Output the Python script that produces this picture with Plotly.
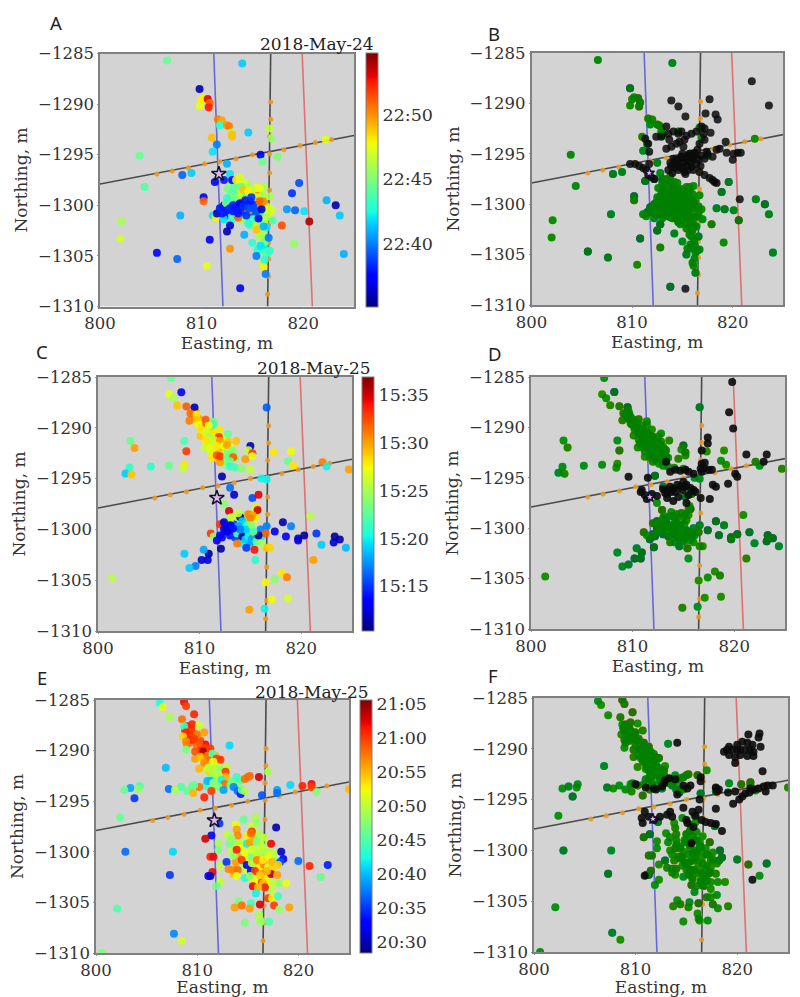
import plotly.graph_objects as go

W, H = 800, 997

# reference lines across the map, east / north in metres
blue_line_x = [811.2, 812.1]
blue_line_y = [-1285, -1310]
black_line_x = [816.8, 816.5]
black_line_y = [-1285, -1310]
red_line_x = [819.9, 820.9]
red_line_y = [-1285, -1310]
cross_line_x = [800, 825]
cross_line_y = [-1297.9, -1293.1]

# orange stations along the two black lines
station_x = [816.8, 816.8, 816.7, 816.7, 816.7, 816.7, 816.6, 816.6, 816.6, 816.6, 816.6, 816.5,
             805.6, 807.1, 808.7, 810.3, 811.8, 813.4, 815.0, 818.1, 819.7, 821.2, 822.8]
station_y = [-1289.8, -1291.5, -1293.2, -1294.9, -1296.8, -1298.5, -1300.2, -1301.9, -1303.7, -1305.3, -1307.0, -1308.8,
             -1296.9, -1296.6, -1296.3, -1295.9, -1295.7, -1295.4, -1295.0, -1294.5, -1294.1, -1293.8, -1293.5]

star_x = [811.7]
star_y = [-1296.9]

x_ticks = [800, 810, 820]
y_ticks = [-1310, -1305, -1300, -1295, -1290, -1285]

# panel A: event east, north, minute after 22:00
a_x = [813.2, 813.6, 814.0, 814.4, 815.0, 815.6, 816.0, 812.4, 813.0, 814.5, 815.0, 815.8,
       816.2, 816.4, 814.0, 813.2, 813.8, 816.0, 816.2, 815.5, 816.3, 816.0, 815.4, 812.2,
       806.6, 814.0, 809.8, 810.2, 809.8, 810.0, 810.6, 810.8, 810.7, 811.6, 812.0, 811.8,
       812.5, 812.7, 812.9, 813.0, 813.0, 811.0, 814.6, 811.5, 811.1, 803.9, 815.8, 816.0,
       817.5, 816.9, 816.7, 822.2, 812.5, 808.1, 809.0, 811.3, 804.4, 812.2, 812.8, 813.0,
       819.6, 818.9, 822.3, 823.2, 823.6, 818.4, 819.2, 820.1, 820.6, 817.9, 817.0, 819.1, 824.0,
       802.1, 802.0, 805.6, 807.6, 807.9, 810.2, 810.2, 810.5, 810.8, 812.5, 812.8, 812.8,
       814.2, 813.8, 815.0, 815.8, 815.4, 816.2, 816.1, 816.3, 816.6, 816.7, 815.7, 816.1,
       815.6, 814.6, 815.4, 813.1, 812.8, 812.5, 813.4, 814.2, 813.9, 814.1, 815.4, 814.9,
       815.7, 814.6, 816.1, 815.7, 816.7, 816.9, 811.1, 811.4, 811.5, 813.0, 813.6, 814.6,
       811.8, 812.0, 812.5, 812.8, 813.1, 813.4, 813.8, 814.1, 814.3, 814.8, 814.9, 814.6,
       815.1, 815.4, 814.4, 813.6, 813.1, 815.9]
a_y = [-1298.9, -1299.2, -1299.0, -1298.9, -1299.0, -1299.0, -1299.0, -1299.8, -1299.6, -1301.6, -1301.4, -1301.8,
       -1300.4, -1301.2, -1301.4, -1298.0, -1297.2, -1302.6, -1303.6, -1304.4, -1304.8, -1305.8, -1299.2, -1301.4,
       -1285.7, -1286.0, -1288.5, -1289.4, -1290.2, -1289.6, -1289.5, -1289.9, -1290.3, -1291.5, -1291.6, -1292.1,
       -1292.1, -1292.2, -1292.8, -1293.0, -1293.2, -1293.3, -1292.8, -1294.0, -1294.7, -1295.1, -1295.0, -1295.7,
       -1295.2, -1293.4, -1292.4, -1293.5, -1295.9, -1297.0, -1296.8, -1297.7, -1298.2, -1297.5, -1296.9, -1297.5,
       -1297.8, -1298.8, -1299.5, -1300.0, -1301.0, -1300.4, -1300.5, -1300.6, -1301.6, -1302.0, -1301.5, -1303.8, -1304.8,
       -1301.6, -1303.3, -1304.7, -1305.3, -1301.0, -1299.2, -1299.6, -1306.0, -1303.4, -1302.6, -1302.0, -1304.3,
       -1302.9, -1308.2, -1303.7, -1304.0, -1305.0, -1305.4, -1306.1, -1306.8, -1303.2, -1304.5, -1303.0, -1302.1,
       -1301.3, -1301.8, -1302.4, -1298.6, -1299.3, -1299.3, -1297.5, -1297.8, -1298.2, -1298.5, -1298.3, -1298.5,
       -1298.3, -1298.6, -1299.6, -1299.6, -1299.1, -1300.5, -1301.0, -1301.2, -1300.8, -1301.0, -1301.2, -1300.5,
       -1300.3, -1300.8, -1300.5, -1300.3, -1300.0, -1300.5, -1299.8, -1300.1, -1299.5, -1299.6, -1299.2, -1300.3,
       -1300.3, -1300.6, -1301.0, -1300.8, -1300.6, -1300.4]
a_t = [46, 45, 47, 44, 48, 50, 46, 45, 44, 43, 44, 45,
       47, 46, 46, 44, 47, 46, 45, 43, 44, 46, 47, 42,
       44.5, 41.5, 36, 48, 47.5, 48, 53, 51, 52.5, 50.5, 49.5, 43,
       50, 50.5, 46, 49, 49, 49, 41.5, 40, 42, 44.5, 37, 44.5,
       45, 45.5, 46.5, 47.5, 41, 39.5, 41.5, 37.5, 44, 38, 42, 37.5,
       39, 38.5, 41, 36, 41.5, 40.5, 39.5, 42, 54, 51.5, 44, 45.5, 41,
       46, 47, 37.5, 39.5, 41, 37, 51, 47.5, 37, 36, 36.5, 50,
       41, 37.5, 43, 42, 40, 43, 48, 40, 40, 43, 46, 41,
       37, 43, 49, 44, 45, 43, 48, 47, 44, 49, 47.5, 46.5,
       47.5, 48, 50, 51, 46, 47, 42, 48, 36, 44, 51, 50,
       38, 38, 38, 38.5, 38, 38, 37.5, 38.5, 38, 38, 38.5, 39,
       39, 39, 38.5, 38, 38, 36.5]
# events hidden inside the dense patch of panel A
a_more_x = [812.2, 812.7, 813.3, 813.6, 813.9, 814.3, 814.6, 815.0, 815.3, 813.0, 814.0, 814.7, 812.4, 815.2, 813.5,
            812.6, 813.0, 813.4, 813.8, 814.2, 814.5, 812.9, 813.3, 813.7, 814.1, 814.5, 814.9, 815.3, 815.7, 816.1,
            812.2, 812.6, 813.0, 813.4, 813.8, 814.2, 814.6, 815.0, 815.4, 815.8, 816.2, 816.6,
            812.6, 813.0, 813.4, 813.8, 814.2, 814.6, 815.0, 815.4, 815.8, 816.2, 816.6,
            814.8, 815.4, 815.9, 816.4, 815.9, 816.2, 815.8, 816.5]
a_more_y = [-1300.1, -1300.8, -1300.2, -1299.9, -1300.4, -1300.6, -1299.9, -1300.0, -1299.6, -1300.9, -1299.6, -1300.9, -1301.0, -1301.0, -1301.0,
            -1298.4, -1297.9, -1298.6, -1297.8, -1298.2, -1297.9, -1299.0, -1299.4, -1298.9, -1299.3, -1299.2, -1298.9, -1298.8, -1298.6, -1298.2,
            -1300.0, -1299.7, -1300.2, -1299.9, -1300.4, -1300.0, -1300.4, -1300.2, -1299.8, -1300.2, -1299.8, -1300.2,
            -1301.0, -1301.4, -1300.9, -1301.3, -1300.9, -1301.3, -1300.9, -1301.3, -1301.0, -1301.4, -1301.0,
            -1302.0, -1302.0, -1302.5, -1302.2, -1303.2, -1304.0, -1304.4, -1304.6]
a_more_t = [38, 37.5, 38, 38.5, 37.5, 38, 38.5, 39, 38.5, 38, 38, 38.5, 37.5, 39, 37.5,
            45, 46, 48, 47, 48, 46, 44, 46, 47, 45, 47, 48, 47, 48, 46,
            38, 39, 38, 38, 38, 38, 38, 39, 39, 50, 50, 47,
            38, 43, 38, 42, 39, 43, 40, 42, 43, 46, 47,
            44, 47, 46, 42, 46, 42, 43, 44]

# panel B: events above the cross line, same night
b_black_x = [821.9, 823.6, 813.9, 814.6, 815.3, 817.7, 817.3, 818.3, 818.5, 820.7, 815.3, 811.3, 811.6, 811.7,
             812.4, 812.9, 813.4, 813.6, 814.1, 814.6, 814.9, 815.4, 815.2, 815.9, 816.4, 816.9, 817.2, 817.8, 817.1,
             813.4, 813.9, 814.4, 815.1, 813.7, 814.7, 816.7, 817.2,
             818.0, 818.4, 818.7, 819.3, 819.4, 820.1, 820.5, 820.8, 820.0,
             816.1, 816.7, 817.2, 817.7, 818.2, 818.4, 818.0,
             809.8, 810.3, 810.7, 811.1, 811.4, 811.6, 811.9, 812.2, 811.7,
             813.6, 813.9, 814.2, 814.5, 814.8, 815.1, 815.4, 815.7, 816.0, 816.3, 816.6, 816.9, 817.2, 817.5,
             814.0, 814.3, 814.6, 814.9, 815.2, 815.5, 815.8, 816.1, 816.4, 814.4, 814.7, 815.0, 815.3, 815.6,
             815.9, 815.0, 815.3, 815.6, 816.2, 816.5, 813.8, 814.1, 816.8, 817.4]
b_black_y = [-1287.8, -1290.2, -1289.7, -1290.3, -1291.3, -1289.6, -1291.0, -1291.1, -1291.6, -1299.5, -1308.4, -1293.5, -1294.0, -1294.8,
             -1293.3, -1293.3, -1292.3, -1293.0, -1292.8, -1293.0, -1292.8, -1293.2, -1293.6, -1293.0, -1292.8, -1292.3, -1292.5, -1292.9, -1293.0,
             -1294.5, -1294.3, -1294.0, -1294.3, -1293.6, -1293.8, -1294.0, -1293.6,
             -1295.3, -1294.6, -1294.5, -1293.8, -1294.9, -1295.0, -1294.9, -1294.9, -1295.6,
             -1296.6, -1296.8, -1297.1, -1297.4, -1297.8, -1297.9, -1297.6,
             -1296.0, -1296.0, -1296.2, -1296.4, -1296.6, -1297.1, -1297.3, -1297.5, -1296.0,
             -1296.6, -1296.2, -1296.4, -1295.8, -1296.3, -1295.9, -1295.4, -1295.0, -1295.5, -1295.1, -1295.6, -1295.2, -1295.5, -1295.0,
             -1296.9, -1295.6, -1296.6, -1295.3, -1296.8, -1296.2, -1295.9, -1295.4, -1296.0, -1296.1, -1295.5, -1296.4, -1295.7, -1295.2,
             -1296.3, -1295.0, -1297.0, -1296.6, -1294.9, -1294.6, -1295.9, -1295.5, -1296.2, -1294.8]

# panel C: event east, north, minute after 15:00
c_x = [809.8, 810.1, 810.4, 810.7, 811.0, 811.3, 811.6, 811.9, 812.2, 812.5, 812.8, 810.6, 810.9, 811.2, 811.5, 811.8,
       812.1, 812.4, 812.7, 813.0, 813.3, 811.1, 811.7, 812.3, 813.5, 812.6, 812.0, 811.4, 813.0, 814.3, 813.7, 814.1,
       807.2, 808.2, 807.0, 807.4, 807.8, 808.7, 809.5, 809.1, 809.0, 809.7, 816.6,
       809.7, 810.1, 810.6, 810.2, 809.9, 811.4, 810.9, 810.2, 810.7, 812.8, 811.4, 811.9, 810.9, 811.4, 812.0, 810.6,
       813.6, 808.5, 803.2, 803.6, 815.0, 810.5, 811.0, 811.7, 812.4, 812.7, 808.7, 814.8, 815.2, 815.2, 817.3, 819.0,
       813.0, 813.2, 811.2, 811.7, 812.0, 812.7, 813.3, 814.5, 813.0, 813.0, 813.5, 814.1, 815.0, 818.7, 819.2, 822.1,
       822.5, 824.7, 803.1, 802.7, 803.3, 805.2, 807.0, 808.5, 808.4, 812.2, 816.1, 816.6, 813.0, 813.4, 815.2, 815.8,
       812.4, 815.6, 815.5, 815.7, 812.9, 813.1, 814.0, 814.8, 815.2, 815.0, 813.8, 814.2, 812.0, 814.7, 815.1, 816.0,
       816.6, 818.2, 819.0, 817.4, 818.5, 816.5, 811.1, 811.4, 819.7, 819.7, 820.3, 821.5, 822.0, 823.3, 823.2, 823.8,
       824.4, 820.9, 821.2, 813.7, 814.6, 815.4, 816.6, 816.9, 815.5, 812.1, 810.9, 810.4, 808.5, 810.2, 810.8, 809.6,
       809.0, 801.4, 816.5, 817.4, 818.1, 818.6, 817.1, 818.7, 816.4, 814.9,
       813.8, 814.5, 814.2, 814.5, 814.8, 815.3, 815.1, 815.6, 816.0, 814.0, 815.8, 815.3,
       812.4, 812.7, 813.0, 812.4, 812.0, 811.7, 813.0, 813.3, 812.7]
c_y = [-1289.0, -1290.8, -1289.6, -1291.6, -1290.2, -1291.0, -1292.2, -1290.2, -1292.0, -1290.9, -1291.4, -1290.6, -1291.4, -1292.4, -1290.9, -1291.6,
       -1292.4, -1292.6, -1292.2, -1291.9, -1292.3, -1291.8, -1293.0, -1293.2, -1293.0, -1293.6, -1293.4, -1289.4, -1293.0, -1299.0, -1300.4, -1301.4,
       -1285.1, -1286.5, -1286.7, -1287.1, -1287.8, -1287.9, -1288.0, -1288.6, -1289.3, -1288.7, -1288.0,
       -1289.2, -1289.4, -1289.2, -1289.9, -1289.7, -1289.7, -1289.8, -1290.2, -1290.4, -1290.6, -1290.5, -1290.9, -1290.9, -1291.2, -1291.3, -1291.2,
       -1291.3, -1291.3, -1291.3, -1292.0, -1291.8, -1292.0, -1292.0, -1291.8, -1291.8, -1291.7, -1292.3, -1292.2, -1292.5, -1292.8, -1292.4, -1292.3,
       -1292.5, -1292.2, -1292.9, -1292.7, -1292.8, -1292.9, -1292.9, -1293.1, -1293.3, -1293.8, -1293.9, -1294.0, -1294.1, -1293.3, -1293.7, -1293.4,
       -1293.8, -1294.1, -1293.9, -1294.5, -1294.6, -1293.8, -1293.7, -1293.6, -1294.0, -1294.8, -1295.0, -1295.1, -1295.9, -1296.6, -1296.9, -1296.6,
       -1297.5, -1297.8, -1298.1, -1298.1, -1298.2, -1298.8, -1298.8, -1298.5, -1298.6, -1298.9, -1298.4, -1299.2, -1299.5, -1299.6, -1299.6, -1300.0,
       -1299.7, -1299.3, -1299.7, -1300.2, -1300.7, -1300.4, -1300.4, -1300.7, -1300.9, -1301.1, -1300.6, -1300.4, -1301.5, -1300.7, -1301.3, -1301.0,
       -1301.8, -1298.7, -1303.0, -1301.4, -1301.8, -1302.0, -1301.8, -1301.8, -1303.0, -1301.9, -1302.4, -1302.0, -1302.4, -1303.0, -1303.0, -1303.6,
       -1303.8, -1304.8, -1305.2, -1304.9, -1304.3, -1304.7, -1306.9, -1306.8, -1307.8, -1307.9,
       -1299.7, -1300.0, -1300.7, -1301.0, -1300.7, -1300.7, -1301.0, -1301.2, -1301.4, -1300.0, -1300.6, -1300.2,
       -1299.3, -1299.7, -1300.0, -1300.0, -1300.6, -1301.1, -1299.6, -1299.9, -1300.2]
c_t = [30, 29, 28, 27, 30, 27, 29, 28, 31, 26, 29, 28, 29, 27, 30, 27,
       29, 26, 24, 27, 25, 26, 29, 25, 24, 24, 30, 23, 28, 24, 22, 20,
       23, 13, 27, 25, 29, 32, 11.5, 31.5, 31, 28, 16,
       29, 29, 32, 32, 27, 22, 27, 28, 26, 23, 28, 33, 25, 26, 30, 28,
       29, 22, 23, 30, 11.5, 26, 27, 28, 27, 30, 33, 26, 33, 27, 28, 27.5,
       23, 24, 28, 32, 33, 23, 32, 30, 23, 21, 22, 24, 26, 23, 28, 31,
       20, 30, 21, 19, 29, 21, 23, 28, 26, 11.5, 20, 20, 16.5, 12, 15.5, 34.5,
       24, 28, 27, 35, 35, 26, 12, 31, 30, 31, 26, 19, 33, 22, 24, 17,
       17, 11.5, 17, 13, 13.5, 32, 33, 24, 12.5, 12.5, 11, 15, 19, 11, 12, 11.5,
       18.5, 25.5, 30, 31, 15, 34, 29, 28.5, 21, 11, 11, 18, 19, 12.5, 12.5, 17,
       19, 25.5, 27.5, 24, 28, 31, 27.5, 26.5, 20, 30,
       18, 19, 11, 19, 20, 31, 18, 22, 25, 17, 10.8, 22,
       12.5, 13, 13, 13, 13.5, 13, 13, 14, 12.5]
# events hidden inside the band and patch of panel C
c_more_x = [809.5, 809.8, 810.2, 810.5, 810.8, 811.1, 811.4, 811.7, 812.0, 812.3, 812.6, 812.9, 813.2, 810.0,
            810.4, 810.8, 811.2, 811.6, 812.0, 812.4, 812.8, 811.0, 811.4, 811.8, 812.2, 812.6, 809.3, 809.6,
            812.3, 812.6, 813.0, 813.3, 813.6, 814.0, 814.4, 814.8, 815.0, 815.4, 815.0,
            814.5, 813.5, 813.0, 813.7, 814.3, 815.3, 815.5, 812.2, 815.8, 816.1, 814.2]
c_more_y = [-1289.0, -1289.6, -1290.0, -1290.4, -1290.8, -1291.0, -1291.4, -1291.2, -1291.7, -1292.1, -1292.6, -1292.8, -1293.0, -1289.2,
            -1289.8, -1290.2, -1290.4, -1290.7, -1291.0, -1291.4, -1292.0, -1291.5, -1292.0, -1292.4, -1292.8, -1293.1, -1288.7, -1288.4,
            -1299.5, -1300.2, -1300.6, -1299.2, -1299.9, -1300.4, -1299.6, -1300.2, -1300.8, -1300.3, -1301.3,
            -1301.0, -1300.8, -1299.0, -1298.8, -1298.6, -1299.2, -1298.7, -1300.8, -1301.0, -1300.7, -1299.9]
c_more_t = [29, 28, 30, 27, 29, 28, 27, 29, 28, 27, 26, 25, 26, 30,
            28, 27, 26, 29, 28, 27, 25, 28, 27, 26, 28, 25, 31, 30,
            13, 13, 14, 15, 17, 18, 20, 19, 21, 20, 18,
            17, 15, 24, 26, 25, 27, 28, 13, 22, 20, 19]

d_black_x = [819.8, 819.5, 819.9, 817.4, 817.4, 816.8, 821.2, 823.2, 822.9, 813.3, 816.8, 817.1, 816.7, 817.0, 817.5, 817.8,
             816.8, 816.0, 813.7, 814.2, 814.7, 815.2, 815.5, 820.1, 820.3, 819.4, 817.9, 818.2, 809.6, 811.5, 810.9, 810.8,
             811.4, 811.2, 811.9, 812.4, 813.0, 813.2, 813.4, 814.0, 814.5, 815.3, 815.5, 816.7, 817.6,
             813.7, 814.0, 814.4, 814.7, 815.0, 815.2, 814.9, 815.3, 815.7, 816.0, 814.2, 813.8, 816.2, 813.4]
d_black_y = [-1285.5, -1288.5, -1290.1, -1291.0, -1291.6, -1292.3, -1292.7, -1292.7, -1293.4, -1293.4, -1293.6, -1293.5, -1294.1, -1294.1, -1294.2, -1294.2,
             -1294.4, -1294.6, -1294.4, -1294.2, -1294.3, -1294.2, -1294.4, -1294.6, -1294.9, -1295.6, -1295.7, -1295.9, -1294.9, -1295.0, -1296.2, -1296.4,
             -1297.1, -1296.7, -1296.6, -1296.8, -1296.1, -1296.5, -1297.0, -1297.3, -1296.9, -1297.5, -1296.7, -1297.0, -1297.1,
             -1295.9, -1296.1, -1295.7, -1295.9, -1295.4, -1295.9, -1296.2, -1295.7, -1296.0, -1296.2, -1296.4, -1296.4, -1296.4, -1296.2]

# panel E: event east, north, minute after 20:00
e_x = [809.0, 809.4, 809.8, 810.2, 810.5, 810.9, 811.2, 811.6, 811.9, 812.2, 812.5, 810.0, 810.8, 811.4, 812.0, 812.9,
       814.0, 814.6, 815.2, 815.8, 816.4, 817.0, 817.4, 816.0, 815.0, 814.4, 813.6, 813.6, 816.8, 817.6, 815.6, 816.6,
       806.3, 806.6, 808.7, 808.9, 807.3, 809.7, 808.5, 809.5, 808.7, 810.2, 810.7, 808.9, 808.6, 809.3, 809.7, 808.9,
       813.2, 808.9, 809.8, 810.6, 811.3, 810.3, 811.0, 811.5, 811.9, 812.3, 811.6, 810.7, 810.2, 811.1, 811.9, 812.3,
       812.8, 806.9, 812.8, 812.1, 811.6, 813.9, 814.7, 815.2, 816.1, 817.0, 811.0, 811.3, 812.4, 812.7, 811.6, 813.3,
       813.6, 814.0, 814.3, 814.4, 814.7, 812.1, 812.6, 811.4, 810.7, 810.2, 809.5, 809.7, 809.0, 808.4, 809.6, 807.2,
       807.8, 803.4, 802.8, 804.3, 804.2, 803.8, 816.4, 817.9, 817.9, 819.2, 820.4, 821.3, 821.3, 821.8, 825.0,
       802.4, 812.2, 811.4, 810.8, 802.9, 807.6, 807.3, 811.1, 811.5, 811.3, 811.3, 811.6, 812.3, 812.3, 811.9, 812.9,
       812.1, 812.1, 802.1, 807.7, 808.5, 800.6,
       814.6, 815.8, 813.8, 813.9, 815.4, 815.9, 815.4, 815.3, 817.8, 813.0, 814.0, 813.4, 814.9, 815.2, 815.9, 816.3,
       817.3, 813.9, 814.7, 815.4, 815.9, 816.5, 818.3, 818.5, 818.2, 820.0, 821.1, 822.9, 822.2, 813.1, 813.6, 814.0,
       814.4, 814.9, 815.4, 815.9, 816.5, 817.4, 818.0, 815.3, 815.7, 813.9, 814.7, 815.2, 816.2, 817.3, 816.9, 817.9,
       816.5, 816.7, 815.5, 816.0, 817.4, 818.1, 818.8, 815.8, 817.0, 817.4, 818.0, 814.1, 815.3, 816.2, 813.7, 814.4,
       815.2, 817.6, 818.1, 819.1, 814.7, 816.1, 816.2, 816.3, 817.1]
e_y = [-1289.4, -1288.1, -1290.8, -1289.2, -1290.9, -1291.4, -1292.0, -1292.6, -1291.0, -1292.4, -1292.8, -1288.4, -1289.7, -1292.8, -1291.4, -1291.7,
       -1299.4, -1300.8, -1301.2, -1302.0, -1299.6, -1300.4, -1303.8, -1298.2, -1298.4, -1299.6, -1300.4, -1302.2, -1302.8, -1300.2, -1302.8, -1298.6,
       -1285.3, -1285.7, -1285.2, -1285.6, -1286.7, -1286.4, -1286.9, -1287.4, -1287.6, -1287.5, -1288.2, -1288.2, -1288.6, -1288.9, -1288.8, -1289.1,
       -1289.5, -1289.9, -1290.1, -1290.1, -1289.8, -1290.6, -1290.5, -1290.3, -1290.8, -1290.9, -1291.1, -1291.2, -1291.8, -1291.7, -1291.7, -1291.9,
       -1292.1, -1291.7, -1292.6, -1292.4, -1292.2, -1292.6, -1292.8, -1292.5, -1292.6, -1292.1, -1293.0, -1293.0, -1292.9, -1293.3, -1293.2, -1293.4,
       -1293.6, -1294.0, -1294.3, -1293.9, -1294.0, -1293.6, -1293.9, -1294.0, -1294.6, -1293.6, -1293.5, -1293.4, -1294.0, -1293.6, -1294.2, -1293.8,
       -1293.9, -1293.7, -1293.9, -1293.5, -1293.8, -1294.7, -1294.4, -1293.9, -1294.2, -1293.4, -1293.5, -1293.3, -1293.6, -1294.1, -1293.8,
       -1296.6, -1297.2, -1298.4, -1298.7, -1300.0, -1300.0, -1302.3, -1302.4, -1302.0, -1302.4, -1300.5, -1300.5, -1301.4, -1302.9, -1303.4, -1301.0,
       -1299.8, -1299.1, -1305.6, -1308.1, -1308.8, -1310.0,
       -1296.8, -1296.6, -1297.3, -1297.8, -1297.5, -1297.2, -1298.0, -1298.2, -1297.6, -1298.3, -1298.4, -1298.7, -1299.2, -1299.1, -1299.0, -1299.3,
       -1299.2, -1299.8, -1300.1, -1299.8, -1300.0, -1300.1, -1300.0, -1300.7, -1301.0, -1300.9, -1301.4, -1301.3, -1302.5, -1301.7, -1301.8, -1301.8,
       -1300.8, -1301.3, -1301.1, -1300.8, -1300.8, -1301.0, -1301.3, -1301.9, -1301.9, -1302.4, -1302.6, -1302.4, -1302.3, -1302.2, -1301.9, -1302.3,
       -1303.1, -1303.5, -1303.4, -1303.5, -1303.1, -1303.1, -1303.1, -1304.1, -1304.6, -1304.6, -1304.4, -1304.9, -1305.1, -1305.2, -1305.5, -1305.3,
       -1305.6, -1305.3, -1305.7, -1305.5, -1307.0, -1306.2, -1306.7, -1306.9, -1306.9]
e_t = [58, 60, 56, 59, 52, 55, 54, 50, 57, 49, 48, 57, 60, 47, 51, 50,
       50, 52, 53, 54, 51, 52, 50, 49, 53, 52, 48, 55, 53, 50, 52, 50,
       43, 52, 62, 60, 49, 61, 58, 61, 44, 51, 56, 61, 54, 61, 60, 57,
       41, 47, 59, 64, 60, 55, 58, 45, 60, 60, 52, 57, 55, 50, 49, 48,
       60, 40, 55, 50, 49, 44, 58, 58, 63, 49, 40, 40, 42, 58, 48, 46,
       38, 37, 34, 46, 49, 47, 39, 60, 61, 58, 46, 46, 46, 45, 55, 37,
       49, 39, 46, 45, 48, 35, 36, 39, 37, 41, 61, 62, 60, 47, 55,
       46, 35, 33, 63, 37, 41, 35, 33, 62, 31, 61, 62, 50, 50, 46, 35,
       47, 49, 45, 38, 51, 47,
       46, 49, 52, 56, 51, 48, 60, 58, 30, 50, 57, 48, 42, 56, 47, 50,
       62, 61, 52, 51, 50, 49, 31, 33, 36, 37, 61, 34, 46, 57, 57, 58,
       60, 33, 50, 57, 53, 55, 54, 33, 60, 52, 43, 48, 54, 64, 55, 56,
       55, 61, 62, 55, 50, 48, 52, 42, 60, 53, 44, 47, 44, 63, 56, 58,
       56, 60, 48, 56, 47, 49, 50, 48, 45]
# events hidden inside the band and patch of panel E
e_more_x = [808.8, 809.1, 809.4, 809.7, 810.0, 810.3, 810.6, 810.9, 811.2, 811.5, 811.8, 812.1, 812.4, 812.7, 812.4,
            809.0, 809.4, 809.9, 810.3, 810.8, 811.3, 811.8, 812.2, 811.0, 811.4, 811.9, 810.8, 811.6, 812.7, 813.3, 814.0, 814.4, 815.0,
            814.0, 814.4, 814.8, 815.0, 815.3, 815.6, 816.0, 816.3, 816.0, 815.6, 815.2, 814.6, 814.2,
            814.6, 815.0, 815.4, 815.8, 816.2, 816.6, 817.0, 817.4, 816.5, 817.0, 817.0, 816.4, 816.6, 815.6, 816.9, 817.1, 817.6, 813.4, 813.8, 813.2]
e_more_y = [-1288.0, -1288.6, -1289.2, -1289.0, -1289.6, -1290.0, -1290.3, -1290.7, -1291.0, -1291.2, -1291.7, -1291.9, -1292.3, -1292.7, -1293.1,
            -1287.6, -1288.0, -1288.4, -1289.0, -1289.4, -1290.2, -1290.5, -1290.9, -1292.0, -1292.4, -1292.6, -1293.5, -1293.6, -1293.4, -1293.0, -1293.2, -1292.9, -1292.6,
            -1299.0, -1299.8, -1299.0, -1298.4, -1299.5, -1298.6, -1299.0, -1299.7, -1300.2, -1300.3, -1300.4, -1300.6, -1300.6,
            -1301.5, -1301.9, -1302.4, -1301.0, -1301.5, -1301.3, -1301.5, -1301.7, -1302.2, -1302.5, -1303.0, -1303.0, -1303.4, -1302.8, -1299.8, -1300.4, -1300.9, -1300.0, -1301.0, -1299.2]
e_more_t = [60, 59, 57, 60, 58, 61, 56, 55, 58, 52, 50, 53, 50, 58, 46,
            62, 60, 61, 59, 62, 58, 55, 58, 50, 47, 48, 44, 46, 48, 46, 47, 45, 58,
            49, 46, 50, 52, 48, 55, 47, 51, 54, 50, 47, 53, 56,
            49, 52, 50, 55, 53, 57, 51, 54, 58, 52, 50, 60, 55, 53, 49, 52, 48, 50, 56, 47]

f_black_x = [822.2, 822.1, 821.1, 820.5, 821.0, 821.5, 822.3, 819.2, 820.0, 818.7, 819.0, 819.5, 820.0, 820.3, 820.8, 821.3,
             821.6, 819.2, 819.8, 820.3, 821.0, 821.6, 819.8, 822.5, 814.1,
             810.0, 811.0, 811.8, 812.0, 812.6, 812.9, 813.3, 813.9, 812.8, 814.7, 815.4, 815.1, 814.1, 816.4, 816.4, 816.3,
             817.9, 818.2, 818.0, 819.1, 819.8, 819.6, 820.2, 820.5, 820.8, 821.2, 821.6, 822.1, 822.6, 823.0, 823.5, 822.8, 821.3,
             810.9, 810.6, 810.7, 811.3, 812.4, 811.8, 813.4, 813.1, 813.6, 814.7, 815.6, 816.2, 815.9, 817.9, 815.0, 815.1,
             815.7, 816.5, 816.9, 817.4, 817.9, 818.5, 815.5, 810.9, 821.5]
f_black_y = [-1288.5, -1288.9, -1288.6, -1289.3, -1289.4, -1289.6, -1289.8, -1289.8, -1289.6, -1290.3, -1290.1, -1290.1, -1290.1, -1290.1, -1290.1, -1290.1,
             -1290.3, -1290.6, -1290.8, -1290.6, -1290.7, -1290.7, -1291.4, -1292.2, -1289.4,
             -1293.5, -1293.8, -1293.9, -1294.0, -1293.7, -1293.1, -1292.9, -1293.0, -1293.4, -1293.6, -1293.6, -1293.9, -1294.5, -1292.8, -1293.2, -1295.0,
             -1293.8, -1294.0, -1294.2, -1294.3, -1294.2, -1295.4, -1295.0, -1294.7, -1294.4, -1294.3, -1294.0, -1293.9, -1293.7, -1293.6, -1293.6, -1294.2, -1293.9,
             -1296.2, -1296.8, -1297.3, -1296.7, -1296.7, -1297.0, -1296.2, -1296.5, -1296.7, -1295.8, -1296.2, -1296.0, -1296.6, -1295.9, -1297.0, -1297.3,
             -1297.7, -1297.0, -1297.2, -1297.3, -1297.4, -1298.1, -1299.3, -1302.5, -1302.9]

# colorbar ticks per panel
a_cb_vals = [40, 45, 50]
a_cb_text = ["22:40", "22:45", "22:50"]
c_cb_vals = [15, 20, 25, 30, 35]
c_cb_text = ["15:15", "15:20", "15:25", "15:30", "15:35"]
e_cb_vals = [30, 35, 40, 45, 50, 55, 60, 65]
e_cb_text = ["20:30", "20:35", "20:40", "20:45", "20:50", "20:55", "21:00", "21:05"]

jet = [[0, "#00007f"], [0.11, "#0000ff"], [0.125, "#0000ff"], [0.34, "#00dbff"], [0.375, "#14ffe2"],
       [0.64, "#eeff08"], [0.66, "#ffec00"], [0.89, "#ff1400"], [0.91, "#e80000"], [1, "#7f0000"]]

SERIF = "DejaVu Serif"
TEXT = "#333333"

fig = go.Figure()


def add_map(idx, box, title_stand):
    # box is left, right, top, bottom of the plot area in page pixels
    left, right, top, bottom = box
    suffix = "" if idx == 1 else str(idx)
    axis = dict(showgrid=False, zeroline=False, showline=True, mirror=True, linecolor="#808080", linewidth=1.5,
                ticks="outside", ticklen=1, tickcolor="#999999",
                tickfont=dict(family=SERIF, size=16.5, color=TEXT))
    fig.layout["xaxis" + suffix] = dict(axis, domain=[left / W, right / W], range=[800, 825], tickvals=x_ticks,
                                        anchor="y" + suffix,
                                        title=dict(text="Easting, m", standoff=0,
                                                   font=dict(family=SERIF, size=17, color=TEXT)))
    fig.layout["yaxis" + suffix] = dict(axis, domain=[1 - bottom / H, 1 - top / H], range=[-1310, -1285],
                                        tickvals=y_ticks, anchor="x" + suffix,
                                        title=dict(text="Northing, m", standoff=title_stand,
                                                   font=dict(family=SERIF, size=17, color=TEXT)))
    ref = dict(xaxis="x" + suffix, yaxis="y" + suffix, showlegend=False, hoverinfo="skip")
    for lx, ly, col in [(blue_line_x, blue_line_y, "#6868d8"), (black_line_x, black_line_y, "#4a4a4a"),
                        (red_line_x, red_line_y, "#e07070"), (cross_line_x, cross_line_y, "#4a4a4a")]:
        fig.add_trace(go.Scatter(x=lx, y=ly, mode="lines", line=dict(color=col, width=1.6), **ref))
    fig.add_trace(go.Scatter(x=station_x, y=station_y, mode="markers",
                             marker=dict(color="#e89a28", size=5, opacity=0.9), **ref))
    return ref


def add_colored(ref, xs, ys, ts, cmin, cmax, colorbar=None):
    marker = dict(color=ts, cmin=cmin, cmax=cmax, colorscale=jet, size=8, opacity=0.9, line=dict(width=0))
    if colorbar:
        marker.update(colorbar=colorbar, showscale=True)
    fig.add_trace(go.Scatter(x=xs, y=ys, mode="markers", marker=marker, **ref))


def make_bar(left, top, bottom, vals, text):
    return dict(x=left / W, xanchor="left", y=1 - bottom / H, yanchor="bottom", len=(bottom - top) / H,
                thickness=12, xpad=0, ypad=0, outlinecolor="#808080", outlinewidth=1,
                tickvals=vals, ticktext=text, ticks="", tickfont=dict(family=SERIF, size=17.5, color=TEXT))


def add_star(ref, size):
    fig.add_trace(go.Scatter(x=star_x, y=star_y, mode="markers",
                             marker=dict(symbol="star", size=size, color="#e3b6e8",
                                         line=dict(color="#101030", width=1.5)), **ref))


def add_marks(ref, xs, ys, color, opacity=0.9):
    fig.add_trace(go.Scatter(x=xs, y=ys, mode="markers",
                             marker=dict(color=color, size=8, opacity=opacity, line=dict(width=0)), **ref))


# panel A / B
all_x, all_y, all_t = a_more_x + a_x, a_more_y + a_y, a_more_t + a_t
ref = add_map(1, (100, 354, 53.5, 306.5), 6)
add_colored(ref, all_x, all_y, all_t, 35.1, 54.8, make_bar(366, 53.5, 307, a_cb_vals, a_cb_text))
add_star(ref, 11)
ref = add_map(2, (531.5, 783, 53, 305), 6)
add_colored(ref, all_x, all_y, all_t, 35.1, 54.8)
add_marks(ref, all_x, all_y, "#008000", 0.92)
add_marks(ref, b_black_x, b_black_y, "#0a0a0a", 0.85)
add_star(ref, 8)

# panel C / D
all_x, all_y, all_t = c_more_x + c_x, c_more_y + c_y, c_more_t + c_t
ref = add_map(3, (98, 352, 377, 631), 6)
add_colored(ref, all_x, all_y, all_t, 10.3, 36.9, make_bar(362, 377, 631, c_cb_vals, c_cb_text))
add_star(ref, 11)
ref = add_map(4, (531, 785, 377, 629), 6)
add_colored(ref, all_x, all_y, all_t, 10.3, 36.9)
add_marks(ref, all_x, all_y, "#008000", 0.88)
add_marks(ref, d_black_x, d_black_y, "#0a0a0a", 0.9)
add_star(ref, 8)

# panel E / F
all_x, all_y, all_t = e_more_x + e_x, e_more_y + e_y, e_more_t + e_t
ref = add_map(5, (96, 349, 700, 953), 6)
add_colored(ref, all_x, all_y, all_t, 28.4, 65.6, make_bar(360, 700, 953, e_cb_vals, e_cb_text))
add_star(ref, 11)
ref = add_map(6, (534, 788, 698, 952), 6)
add_colored(ref, all_x, all_y, all_t, 28.4, 65.6)
add_marks(ref, all_x, all_y, "#008000", 0.88)
add_marks(ref, f_black_x, f_black_y, "#0a0a0a", 0.9)
add_star(ref, 8)

notes = [("A", 56, 23, "center", "Noto Sans", 18.5), ("B", 494, 33, "center", "Noto Sans", 18.5),
         ("C", 42, 352, "center", "Noto Sans", 18.5), ("D", 495, 353, "center", "Noto Sans", 18.5),
         ("E", 42, 677, "center", "Noto Sans", 18.5), ("F", 493, 675, "center", "Noto Sans", 18.5),
         ("2018-May-24", 376, 44, "right", SERIF, 17), ("2018-May-25", 373, 368, "right", SERIF, 17),
         ("2018-May-25", 371, 692, "right", SERIF, 17)]
for text, px, py, anchor, family, size in notes:
    fig.add_annotation(x=px / W, y=1 - py / H, xref="paper", yref="paper", text=text, showarrow=False,
                       xanchor=anchor, yanchor="middle", font=dict(family=family, size=size, color="#222222"))

fig.update_layout(width=W, height=H, margin=dict(l=0, r=0, t=0, b=0, autoexpand=False), paper_bgcolor="white",
                  plot_bgcolor="#d3d3d3", showlegend=False)

fig.write_html("out.html", config=dict(displayModeBar=False), post_script="document.body.style.margin='0';")
